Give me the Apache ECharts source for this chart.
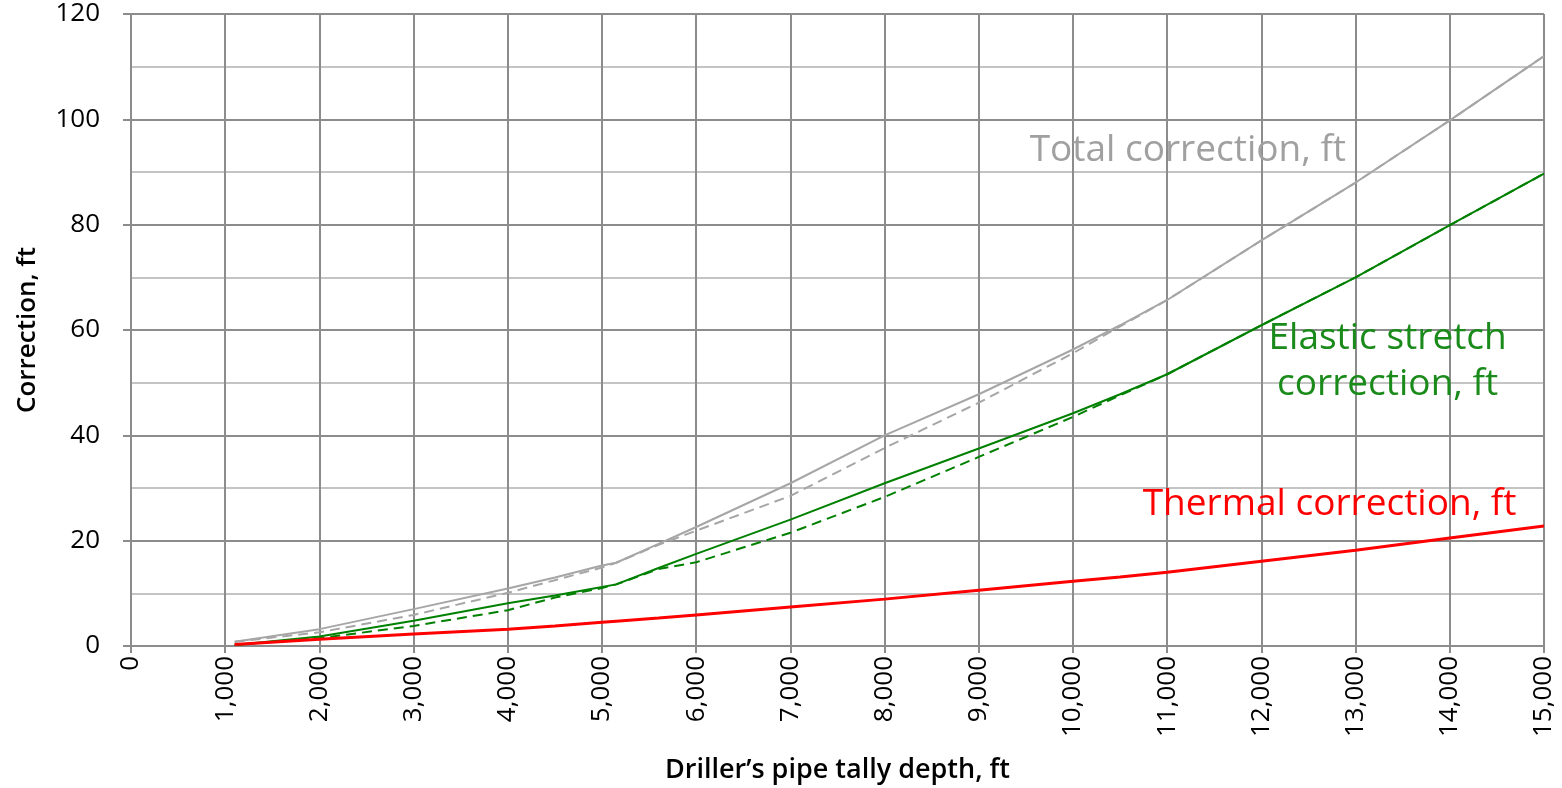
<!DOCTYPE html>
<html>
<head>
<meta charset="utf-8">
<title>Depth correction vs pipe tally depth</title>
<script src="https://cdn.jsdelivr.net/npm/echarts@6/dist/echarts.min.js"></script>
<style>
  html, body { margin: 0; padding: 0; background: #ffffff; }
  #chart { width: 1562px; height: 788px; }
</style>
</head>
<body>
<div id="chart"></div>
<script>
// Driller's pipe tally depth, ft
const depth = [1100, 2000, 3000, 4000, 4500, 5000, 5150, 5600, 6000, 7000, 8000,
               9000, 10000, 10500, 11000, 12000, 13000, 14000, 15000];

// Corrections, ft
const thermal       = [0.3, 1.3, 2.3, 3.2, 3.8, 4.5, 4.7, 5.3, 5.9, 7.4, 8.9,
                       10.6, 12.3, 13.1, 14.0, 16.1, 18.2, 20.5, 22.8];
const elastic       = [0.2, 1.8, 4.8, 8.1, 9.6, 11.2, 11.7, 14.8, 17.5, 24.0, 30.9,
                       37.5, 44.2, 47.8, 51.6, 60.9, 70.0, 79.9, 89.7];
const elasticDashed = [0.2, 1.5, 3.8, 6.8, 9.2, 11.0, 11.7, 14.6, 15.9, 21.5, 28.3,
                       35.9, 43.5, 47.6, 51.6, 60.9, 70.0, 79.9, 89.7];
const total         = [0.8, 3.2, 7.0, 10.9, 13.0, 15.3, 15.8, 19.4, 22.6, 30.9, 40.0,
                       47.8, 56.3, 60.9, 65.7, 77.0, 88.0, 99.8, 112.0];
const totalDashed   = [0.8, 2.6, 5.9, 10.1, 12.5, 14.9, 15.8, 19.2, 21.9, 28.5, 37.6,
                       46.2, 55.6, 60.7, 65.7, 77.0, 88.0, 99.8, 112.0];

// Curve captions: text, anchor in data coordinates [depth, correction], colour
const captions = [
  { text: 'Total correction, ft',            at: [9540, 94.1],  color: '#a0a0a0', align: 'left' },
  { text: 'Elastic stretch\ncorrection, ft', at: [13340, 54.0], color: '#1a8a1a', align: 'center' },
  { text: 'Thermal correction, ft',          at: [10740, 26.8], color: '#ff0000', align: 'left' }
];

const pairs = ys => depth.map((d, i) => [d, ys[i]]);
const FONT = '"Open Sans", "Noto Sans", sans-serif';
const GRID_DARK = '#8c8c8c';
const GRID_LIGHT = '#c4c4c4';

const chart = echarts.init(document.getElementById('chart'), null, { renderer: 'canvas' });

const option = {
  animation: false,
  backgroundColor: '#ffffff',
  grid: { left: 131, right: 18, top: 14, bottom: 142, show: false, outerBoundsMode: 'none', containLabel: false },
  xAxis: {
    type: 'value',
    min: 0, max: 15000, interval: 1000,
    name: 'Driller\u2019s pipe tally depth, ft',
    nameLocation: 'middle',
    nameGap: 111,
    nameTextStyle: { fontFamily: FONT, fontSize: 27, fontWeight: 600, color: '#000' },
    axisLine: { show: true, lineStyle: { color: GRID_DARK, width: 2 } },
    axisTick: { show: true, length: 7, lineStyle: { color: GRID_DARK, width: 2 } },
    axisLabel: {
      rotate: 90, margin: 10,
      fontFamily: FONT, fontSize: 26, color: '#000',
      formatter: v => v.toLocaleString('en-US')
    },
    splitLine: { show: true, lineStyle: { color: GRID_DARK, width: 2 } }
  },
  yAxis: {
    type: 'value',
    min: 0, max: 120, interval: 20,
    name: 'Correction, ft',
    nameLocation: 'middle',
    nameGap: 90,
    nameTextStyle: { fontFamily: FONT, fontSize: 26, fontWeight: 600, color: '#000' },
    axisLine: { show: true, lineStyle: { color: GRID_DARK, width: 2 } },
    axisTick: { show: true, length: 8, lineStyle: { color: GRID_DARK, width: 2 } },
    axisLabel: { margin: 31, fontFamily: FONT, fontSize: 26, color: '#000' },
    splitLine: { show: true, lineStyle: { color: GRID_DARK, width: 2 } },
    minorTick: { show: false, splitNumber: 2 },
    minorSplitLine: { show: true, lineStyle: { color: GRID_LIGHT, width: 2 } }
  },
  series: [
    {
      name: 'Total correction (dashed)', type: 'line', data: pairs(totalDashed),
      showSymbol: false, z: 2,
      lineStyle: { color: '#a6a6a6', width: 2, type: [10, 6] }
    },
    {
      name: 'Elastic stretch correction (dashed)', type: 'line', data: pairs(elasticDashed),
      showSymbol: false, z: 2,
      lineStyle: { color: '#008000', width: 2, type: [10, 6] }
    },
    {
      name: 'Total correction', type: 'line', data: pairs(total),
      showSymbol: false, z: 3,
      lineStyle: { color: '#a6a6a6', width: 2 }
    },
    {
      name: 'Elastic stretch correction', type: 'line', data: pairs(elastic),
      showSymbol: false, z: 3,
      lineStyle: { color: '#008000', width: 2 }
    },
    {
      name: 'Thermal correction', type: 'line', data: pairs(thermal),
      showSymbol: false, z: 4,
      lineStyle: { color: '#ff0000', width: 3 }
    }
  ]
};

chart.setOption(option);

// Place curve captions from data coordinates
const graphics = captions.map(c => {
  const p = chart.convertToPixel({ gridIndex: 0 }, c.at);
  return {
    type: 'text',
    x: p[0], y: p[1],
    z: 10,
    style: {
      text: c.text,
      fill: c.color,
      font: '37px ' + FONT,
      align: c.align,
      verticalAlign: 'middle',
      lineHeight: 46
    }
  };
});
chart.setOption({ graphic: graphics });
</script>
</body>
</html>
